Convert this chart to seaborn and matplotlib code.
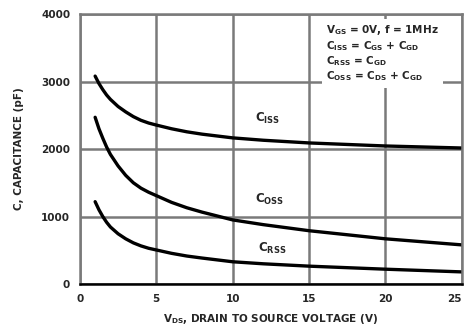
import matplotlib
matplotlib.use("Agg")
import matplotlib.pyplot as plt
import numpy as np
import pandas as pd
import seaborn as sns

sns.set_theme(style="white")
plt.rcParams["font.family"] = ["DejaVu Sans"]
plt.rcParams["mathtext.default"] = "bf"

# values (pF vs V)
vds = [1, 1.25, 1.5, 1.75, 2, 2.5, 3, 3.5, 4, 4.5, 5, 6, 7, 8, 10, 12, 15, 20, 25]
ciss = [3080, 2970, 2880, 2800, 2735, 2630, 2550, 2480, 2425, 2385, 2355,
        2300, 2255, 2220, 2165, 2130, 2090, 2045, 2015]
coss = [2470, 2300, 2160, 2030, 1920, 1750, 1610, 1500, 1420, 1360, 1310,
        1210, 1130, 1065, 950, 880, 790, 670, 580]
crss = [1220, 1100, 1000, 915, 845, 745, 670, 610, 565, 530, 505,
        455, 415, 385, 330, 300, 265, 220, 180]

x_ticks = [0, 5, 10, 15, 20, 25]
y_ticks = [0, 1000, 2000, 3000, 4000]

fig = plt.figure(figsize=(4.67, 3.33), dpi=100)
ax = fig.add_axes([0.171, 0.147, 0.818, 0.811])

for vals in (ciss, coss, crss):
    sns.lineplot(x=vds, y=vals, ax=ax, color="black", lw=2.4, sort=False)

ax.set_xlim(0, 25)
ax.set_ylim(0, 4000)
ax.set_xticks(x_ticks)
ax.set_yticks(y_ticks)
ax.set_xticklabels([str(v) for v in x_ticks], fontsize=7.5, fontweight="bold")
ax.set_yticklabels([str(v) for v in y_ticks], fontsize=7.5, fontweight="bold")
# last label sits right at the figure edge, keep it inside
ax.get_xticklabels()[-1].set_horizontalalignment("right")
ax.tick_params(length=0, pad=7)
ax.grid(True, color="#7a7a7a", lw=1.8)
ax.set_axisbelow(True)
for side in ("top", "right", "left"):
    ax.spines[side].set_color("#7a7a7a")
    ax.spines[side].set_linewidth(1.8)
ax.spines["bottom"].set_color("black")
ax.spines["bottom"].set_linewidth(1.8)

ax.set_xlabel(r"$V_{DS}$, DRAIN TO SOURCE VOLTAGE (V)", fontsize=7.5,
              fontweight="bold", labelpad=6)
ax.set_ylabel("C, CAPACITANCE (pF)", fontsize=7.5, fontweight="bold",
              labelpad=12)

box = dict(facecolor="white", edgecolor="none", pad=1.5)
ax.text(12.3, 2460, r"$C_{ISS}$", fontsize=8.5, ha="center", va="center", bbox=box)
ax.text(12.4, 1260, r"$C_{OSS}$", fontsize=8.5, ha="center", va="center", bbox=box)
ax.text(12.6, 530, r"$C_{RSS}$", fontsize=8.5, ha="center", va="center", bbox=box)

legend_txt = ("$V_{GS}$ = 0V, f = 1MHz\n"
              "$C_{ISS}$ = $C_{GS}$ + $C_{GD}$\n"
              "$C_{RSS}$ = $C_{GD}$\n"
              "$C_{OSS}$ = $C_{DS}$ + $C_{GD}$")
ax.text(0.645, 0.965, legend_txt, transform=ax.transAxes, fontsize=7.5,
        fontweight="bold", ha="left", va="top", linespacing=1.15,
        bbox=dict(facecolor="white", edgecolor="none", pad=3))

fig.savefig("out.png", dpi=100)
